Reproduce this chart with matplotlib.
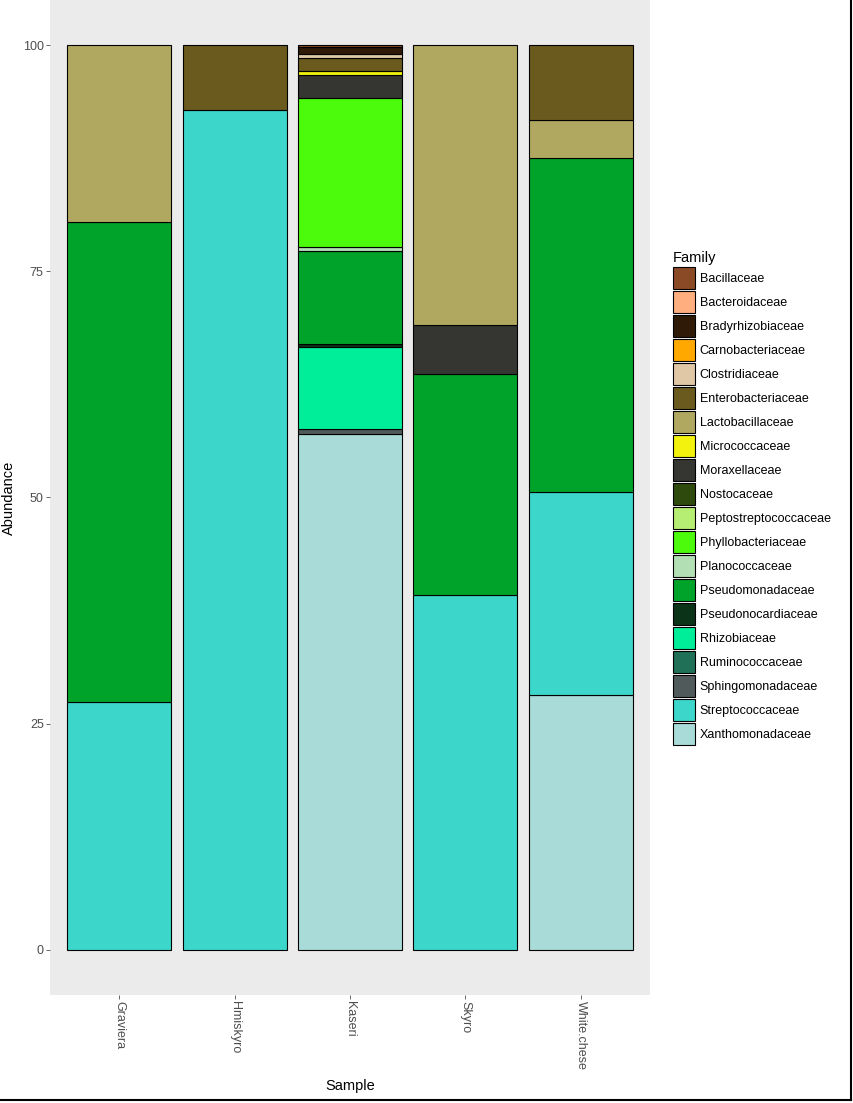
import matplotlib
matplotlib.use('Agg')
import matplotlib.pyplot as plt
import matplotlib.patches as patches
from matplotlib.lines import Line2D

plt.rcParams['font.family'] = ['Liberation Sans', 'DejaVu Sans']

samples = ['Graviera', 'Hmiskyro', 'Kaseri', 'Skyro', 'White.chese']

families = ['Bacillaceae', 'Bacteroidaceae', 'Bradyrhizobiaceae', 'Carnobacteriaceae',
            'Clostridiaceae', 'Enterobacteriaceae', 'Lactobacillaceae', 'Micrococcaceae',
            'Moraxellaceae', 'Nostocaceae', 'Peptostreptococcaceae', 'Phyllobacteriaceae',
            'Planococcaceae', 'Pseudomonadaceae', 'Pseudonocardiaceae', 'Rhizobiaceae',
            'Ruminococcaceae', 'Sphingomonadaceae', 'Streptococcaceae', 'Xanthomonadaceae']

colors = ['#8B4A26', '#FFAE80', '#2E1A06', '#FFA800', '#E0C8A6', '#6B5A1E', '#B0A860',
          '#F2F20E', '#353532', '#2E4A0C', '#B5EE72', '#4CFA0C', '#B2E0B4', '#00A32A',
          '#0B3318', '#00EE9A', '#1F7056', '#505A5A', '#3DD6CB', '#A9DCD8']

# abundance per sample (percent)
graviera = {'Lactobacillaceae': 19.6, 'Pseudomonadaceae': 53.0, 'Streptococcaceae': 27.4}
hmiskyro = {'Enterobacteriaceae': 7.2, 'Streptococcaceae': 92.8}
kaseri = {'Bacillaceae': 0.2, 'Bradyrhizobiaceae': 0.8, 'Clostridiaceae': 0.4,
          'Enterobacteriaceae': 1.5, 'Micrococcaceae': 0.4, 'Moraxellaceae': 2.5,
          'Phyllobacteriaceae': 16.5, 'Planococcaceae': 0.4, 'Pseudomonadaceae': 10.3,
          'Pseudonocardiaceae': 0.4, 'Rhizobiaceae': 9.0, 'Sphingomonadaceae': 0.6,
          'Xanthomonadaceae': 57.0}
skyro = {'Lactobacillaceae': 30.9, 'Moraxellaceae': 5.5, 'Pseudomonadaceae': 24.4,
         'Streptococcaceae': 39.2}
white_chese = {'Enterobacteriaceae': 8.3, 'Lactobacillaceae': 4.2, 'Pseudomonadaceae': 36.9,
               'Streptococcaceae': 22.4, 'Xanthomonadaceae': 28.2}

sample_data = [graviera, hmiskyro, kaseri, skyro, white_chese]

fig = plt.figure(figsize=(8.54, 11.03), dpi=100)
ax = fig.add_axes([0.0585, 0.098, 0.7026, 0.902])
ax.set_facecolor('#EBEBEB')

# ggplot stacks the first factor level on top
for i, data in enumerate(sample_data):
    bottom = 0
    for fam in reversed(families):
        val = data.get(fam, 0)
        if val <= 0:
            continue
        ax.bar(i + 1, val, width=0.9, bottom=bottom, color=colors[families.index(fam)],
               edgecolor='black', linewidth=0.8)
        bottom += val

ax.set_xlim(0.4, 5.6)
ax.set_ylim(-5, 105)
ax.set_xticks(range(1, 6))
ax.set_xticklabels(samples, rotation=270, fontsize=9, color='#4D4D4D')
ax.set_yticks([0, 25, 50, 75, 100])
ax.set_yticklabels(['0', '25', '50', '75', '100'], fontsize=9, color='#4D4D4D')
ax.tick_params(axis='both', length=3, color='#4D4D4D', width=0.6, pad=1.5)
for s in ax.spines.values():
    s.set_visible(False)

ax.set_xlabel('Sample', fontsize=10.5)
ax.set_ylabel('Abundance', fontsize=10.5)
ax.xaxis.set_label_coords(0.5, -0.085)
ax.yaxis.set_label_coords(-0.057, 0.5)

handles = [patches.Patch(facecolor=c, edgecolor='black', linewidth=0.8) for c in colors]
leg = ax.legend(handles, families, loc='upper left', bbox_to_anchor=(0.782, 0.777),
                bbox_transform=fig.transFigure, frameon=False, title='Family',
                fontsize=9, title_fontsize=10.5, handlelength=1.75, handleheight=2.33,
                labelspacing=0.16, handletextpad=0.4, borderaxespad=0)
leg._legend_box.align = 'left'

# outer frame lines on right and bottom
fig.add_artist(Line2D([0.997, 0.997], [0.003, 1.0], color='black', lw=1.5,
                      transform=fig.transFigure))
fig.add_artist(Line2D([0.0, 0.997], [0.003, 0.003], color='black', lw=1.5,
                      transform=fig.transFigure))

fig.savefig('out.png', dpi=100)
